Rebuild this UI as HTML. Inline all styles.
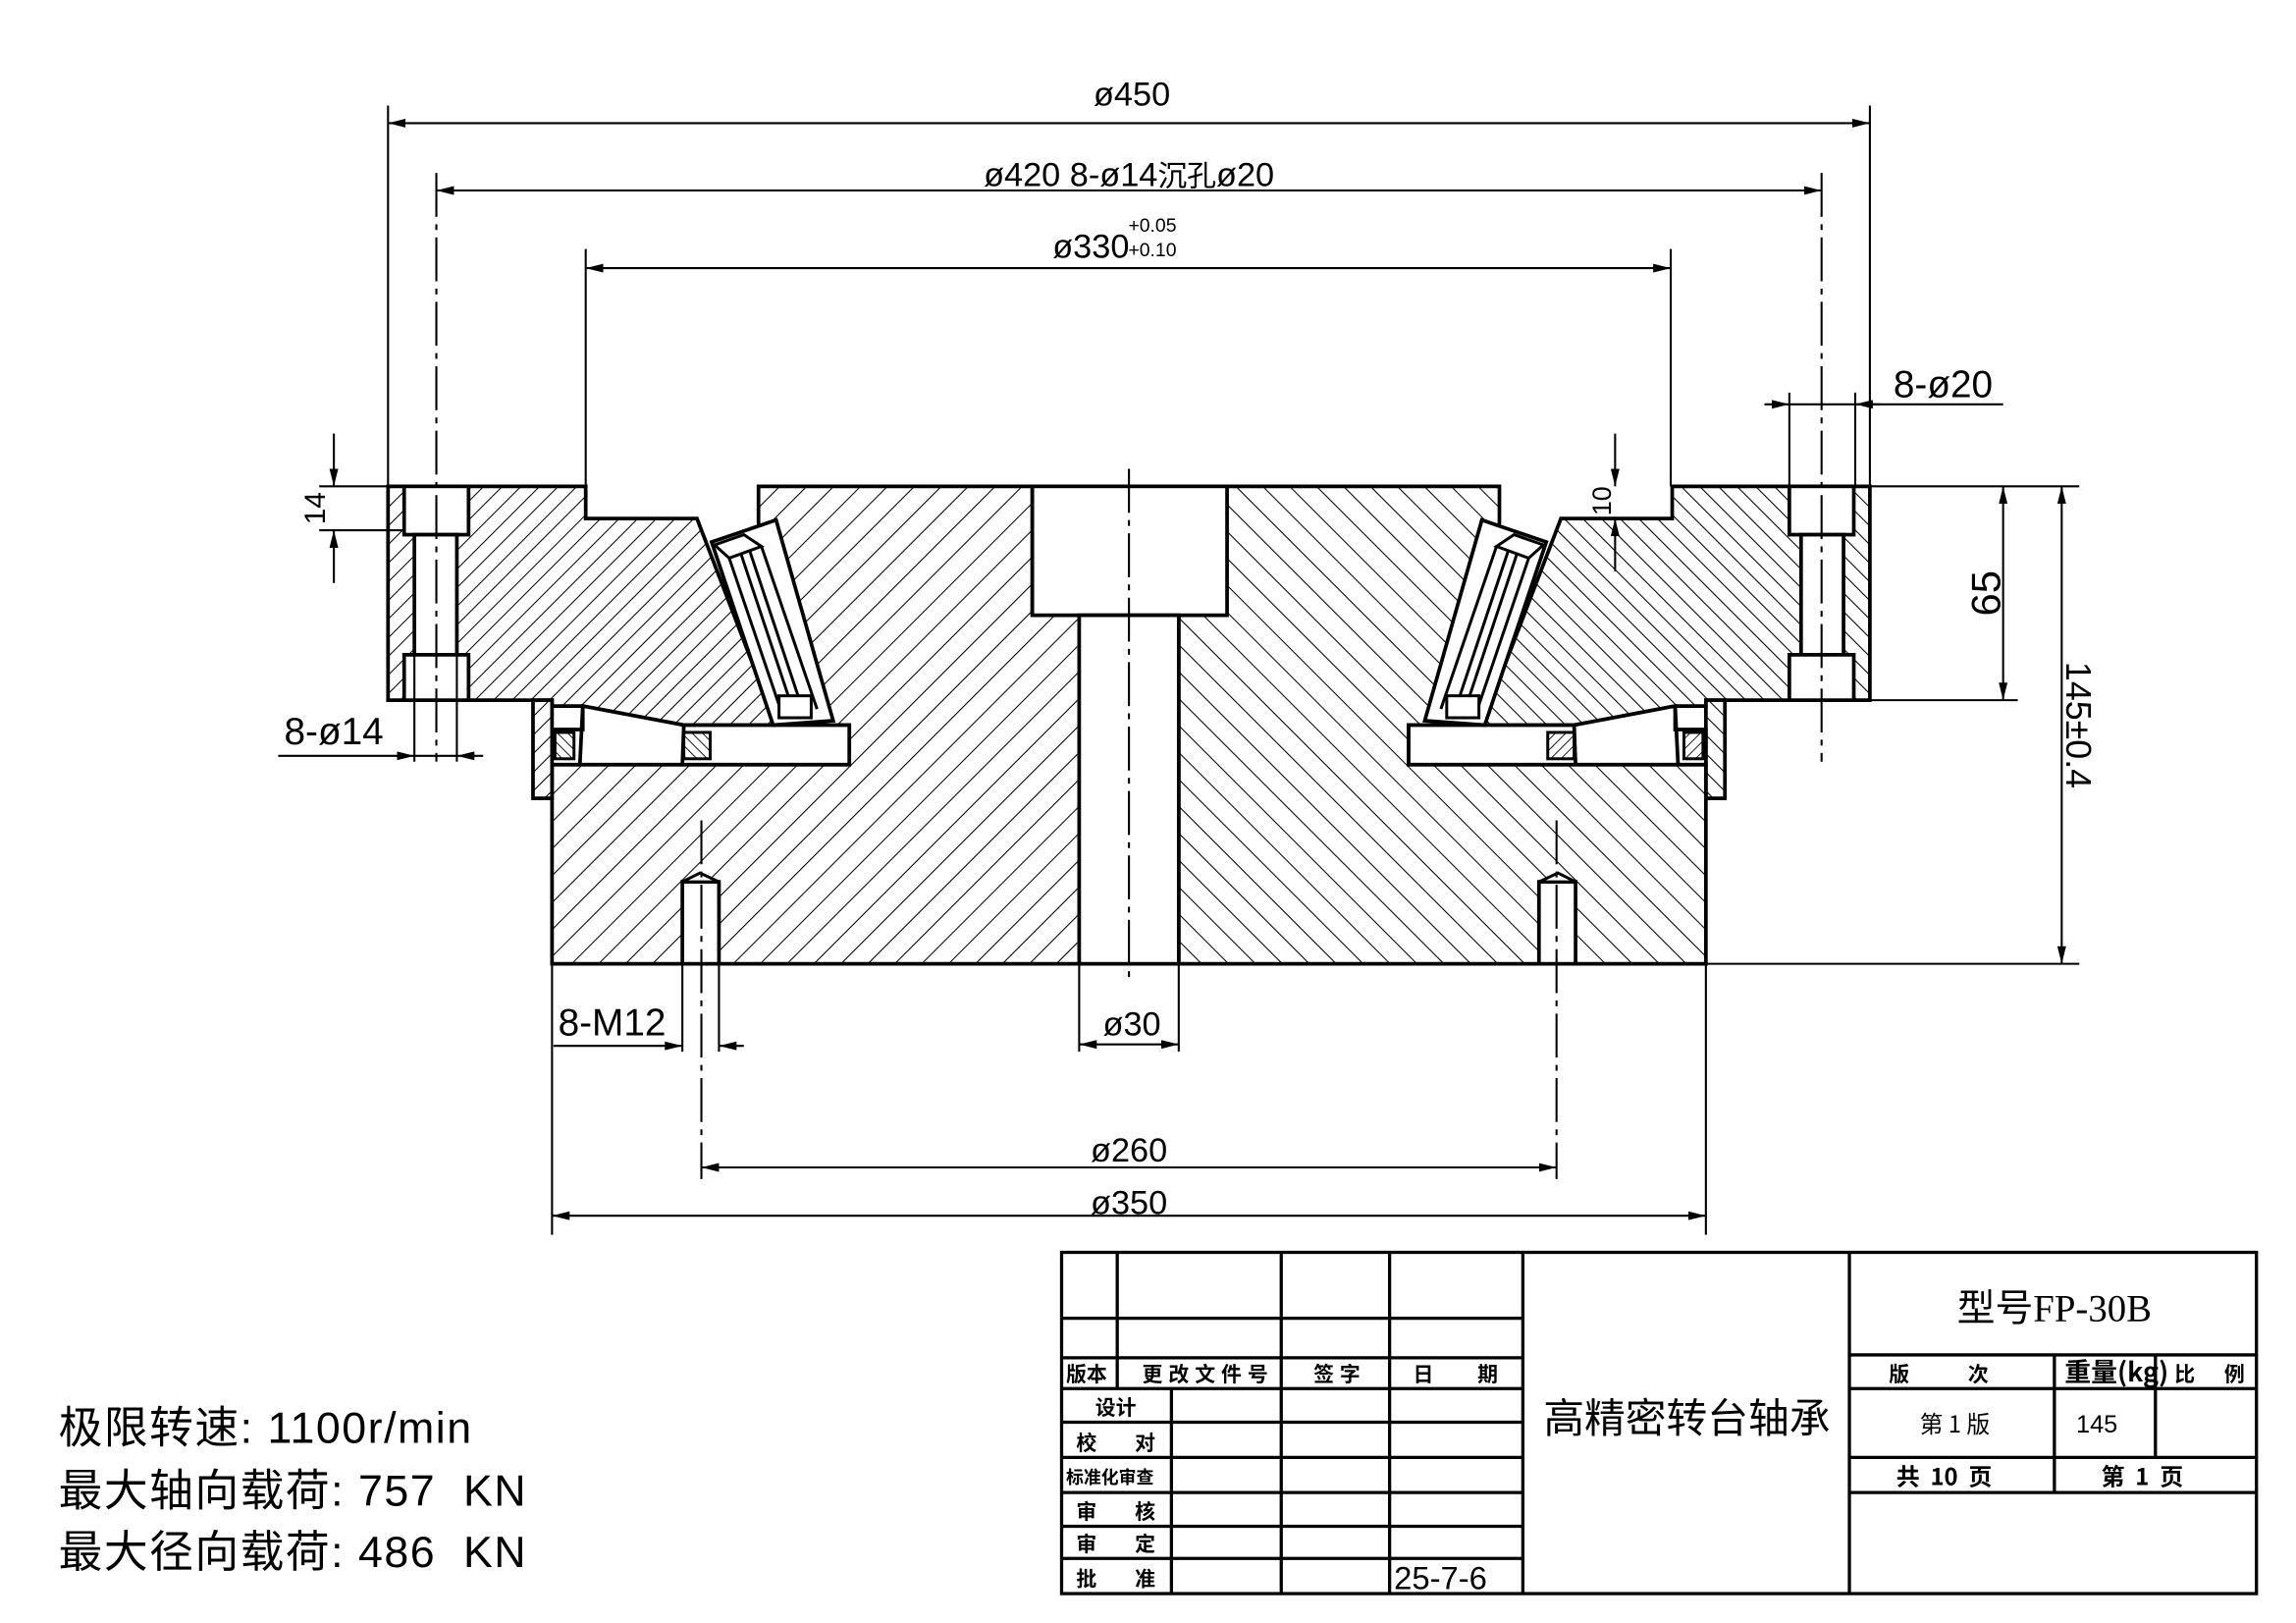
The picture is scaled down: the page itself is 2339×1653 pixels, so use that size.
<!DOCTYPE html>
<html><head><meta charset="utf-8"><style>
html,body{margin:0;padding:0;background:#fff;}
svg{display:block}
text{font-family:"Liberation Sans Narrow","Liberation Sans","Noto Sans CJK SC",sans-serif;fill:#000}
</style></head><body>
<svg width="2339" height="1653" viewBox="0 0 1568 1108" xmlns="http://www.w3.org/2000/svg">
<defs>
<pattern id="h1" patternUnits="userSpaceOnUse" width="9" height="9" patternTransform="rotate(45)"><line x1="0" y1="0" x2="0" y2="9" stroke="#000" stroke-width="1.4"/></pattern>
<pattern id="h2" patternUnits="userSpaceOnUse" width="13" height="13" patternTransform="rotate(45)"><line x1="0" y1="0" x2="0" y2="13" stroke="#000" stroke-width="1.4"/></pattern>
<pattern id="h3" patternUnits="userSpaceOnUse" width="5" height="5" patternTransform="rotate(-45)"><line x1="0" y1="0" x2="0" y2="5" stroke="#000" stroke-width="1.2"/></pattern>
<marker id="a" viewBox="0 0 12 6" refX="12" refY="3" markerWidth="12" markerHeight="6" orient="auto-start-reverse" markerUnits="userSpaceOnUse"><path d="M0,0 L12,3 L0,6 z" fill="#000"/></marker>
</defs>
<rect width="1568" height="1108" fill="#fff"/>

<g id="half" stroke="#000" stroke-width="2.5" stroke-linejoin="miter">
 <polygon points="518,332 705,332 705,420 737,420 737,658 377,658 377,522 580,522 580,495 560,495 518,357" fill="url(#h2)"/>
 <polygon points="265,332 400,332 400,354 476,354 530,495 467,495 398,482 377,482 377,478 265,478" fill="url(#h1)"/>
 <rect x="364" y="478" width="13" height="67" fill="url(#h1)"/>
 <rect x="276" y="332" width="44" height="33" fill="#fff"/>
 <rect x="283" y="365" width="29" height="82" fill="#fff"/>
 <rect x="276" y="447" width="44" height="31" fill="#fff"/>
 <polygon points="398,482 467,495 580,495 580,522 377,522 377,498 398,498" fill="#fff"/>
 <rect x="379" y="500" width="13" height="18" fill="url(#h3)" stroke-width="2"/>
 <rect x="467" y="500" width="18" height="18" fill="url(#h3)" stroke-width="2"/>
 <line x1="398" y1="482" x2="396" y2="522"/>
 <line x1="467" y1="495" x2="466" y2="522"/>
 <polygon points="486,370 530,355 569,492 528,495" fill="#fff"/>
 <polygon points="488,372 508,365 520,373 498,381" fill="#fff" stroke-width="2"/>
 <line x1="498" y1="381" x2="535" y2="490" stroke-width="2"/>
 <line x1="506" y1="378" x2="542" y2="486" stroke-width="2"/>
 <line x1="512" y1="376" x2="548" y2="484" stroke-width="2"/>
 <line x1="520" y1="373" x2="558" y2="484" stroke-width="2"/>
 <rect x="532" y="475" width="22" height="15" fill="#fff" stroke-width="2"/>
 <rect x="466" y="602" width="25" height="56" fill="#fff"/>
 <polygon points="466,602 478,596 491,602" fill="#fff" stroke-width="2"/>
</g>
<use href="#half" transform="translate(1542,0) scale(-1,1)"/>
<rect x="705" y="332" width="133" height="88" fill="#fff" stroke="#000" stroke-width="2.5"/>
<rect x="737" y="420" width="68" height="238" fill="#fff" stroke="#000" stroke-width="2.5"/>

<g stroke="#000" stroke-width="1.4" fill="none">
 <line x1="771" y1="320" x2="771" y2="672" stroke-dasharray="30,5,4,5"/>
 <line x1="298" y1="118" x2="298" y2="520" stroke-dasharray="30,5,4,5"/>
 <line x1="1244" y1="118" x2="1244" y2="520" stroke-dasharray="30,5,4,5"/>
 <line x1="479" y1="560" x2="479" y2="805" stroke-dasharray="30,5,4,5"/>
 <line x1="1063" y1="560" x2="1063" y2="805" stroke-dasharray="30,5,4,5"/>
 <line x1="265" y1="72" x2="265" y2="332"/><line x1="1277" y1="72" x2="1277" y2="332"/>
 <line x1="265" y1="84" x2="1277" y2="84" marker-start="url(#a)" marker-end="url(#a)"/>
 <line x1="298" y1="130" x2="1244" y2="130" marker-start="url(#a)" marker-end="url(#a)"/>
 <line x1="400" y1="170" x2="400" y2="332"/><line x1="1141" y1="170" x2="1141" y2="332"/>
 <line x1="400" y1="183" x2="1141" y2="183" marker-start="url(#a)" marker-end="url(#a)"/>
 <line x1="1222" y1="268" x2="1222" y2="332"/><line x1="1267" y1="268" x2="1267" y2="332"/>
 <line x1="1222" y1="276" x2="1368" y2="276"/>
 <line x1="1205" y1="276" x2="1222" y2="276" marker-end="url(#a)"/>
 <line x1="1284" y1="276" x2="1267" y2="276" marker-end="url(#a)"/>
 <line x1="218" y1="332" x2="265" y2="332"/><line x1="218" y1="362" x2="276" y2="362"/>
 <line x1="228" y1="296" x2="228" y2="332" marker-end="url(#a)"/>
 <line x1="228" y1="398" x2="228" y2="362" marker-end="url(#a)"/>
 <line x1="1103" y1="296" x2="1103" y2="332" marker-end="url(#a)"/>
 <line x1="1103" y1="390" x2="1103" y2="354" marker-end="url(#a)"/>
 <line x1="1277" y1="332" x2="1420" y2="332"/><line x1="1277" y1="478" x2="1378" y2="478"/>
 <line x1="1165" y1="658" x2="1420" y2="658"/>
 <line x1="1368" y1="332" x2="1368" y2="478" marker-start="url(#a)" marker-end="url(#a)"/>
 <line x1="1408" y1="332" x2="1408" y2="658" marker-start="url(#a)" marker-end="url(#a)"/>
 <line x1="283" y1="447" x2="283" y2="520"/><line x1="312" y1="447" x2="312" y2="520"/>
 <line x1="190" y1="516" x2="283" y2="516" marker-end="url(#a)"/>
 <line x1="312" y1="516" x2="283" y2="516"/>
 <line x1="330" y1="516" x2="312" y2="516" marker-end="url(#a)"/>
 <line x1="466" y1="658" x2="466" y2="718"/><line x1="491" y1="658" x2="491" y2="718"/>
 <line x1="378" y1="714" x2="466" y2="714" marker-end="url(#a)"/>
 <line x1="508" y1="714" x2="491" y2="714" marker-end="url(#a)"/>
 <line x1="737" y1="658" x2="737" y2="718"/><line x1="805" y1="658" x2="805" y2="718"/>
 <line x1="737" y1="713" x2="805" y2="713" marker-start="url(#a)" marker-end="url(#a)"/>
 <line x1="479" y1="797" x2="1063" y2="797" marker-start="url(#a)" marker-end="url(#a)"/>
 <line x1="377" y1="658" x2="377" y2="843"/><line x1="1165" y1="658" x2="1165" y2="843"/>
 <line x1="377" y1="830" x2="1165" y2="830" marker-start="url(#a)" marker-end="url(#a)"/>
</g>

<g font-size="23" text-anchor="middle">
 <text x="773" y="72">ø450</text>
 <text x="771" y="127">ø420  8-ø14<tspan font-size="20" font-family="Noto Sans CJK SC">沉孔</tspan>ø20</text>
 <text x="745" y="176">ø330</text>
 <text x="787" y="158" font-size="13">+0.05</text>
 <text x="787" y="175" font-size="13">+0.10</text>
 <text x="1327" y="271" font-size="26">8-ø20</text>
 <text x="228" y="508" font-size="26">8-ø14</text>
 <text x="418" y="707" font-size="26">8-M12</text>
 <text x="773" y="707">ø30</text>
 <text x="771" y="793">ø260</text>
 <text x="771" y="829">ø350</text>
 <text transform="translate(222,347) rotate(-90)" font-size="20">14</text>
 <text transform="translate(1100,342) rotate(-90)" font-size="18">10</text>
 <text transform="translate(1366,405) rotate(-90)" font-size="28">65</text>
 <text transform="translate(1411,495) rotate(90)" font-size="24">145±0.4</text>
</g>

<g font-size="30">
 <text x="40" y="985" letter-spacing="1" style="font-family:'Liberation Sans','Noto Sans CJK SC',sans-serif">极限转速:&#160;1100r/min</text>
 <text x="40" y="1028" letter-spacing="1" style="font-family:'Liberation Sans','Noto Sans CJK SC',sans-serif">最大轴向载荷:&#160;757&#160;&#160;KN</text>
 <text x="40" y="1070" letter-spacing="1" style="font-family:'Liberation Sans','Noto Sans CJK SC',sans-serif">最大径向载荷:&#160;486&#160;&#160;KN</text>
</g>

<g stroke="#000" stroke-width="2.2" fill="none">
 <rect x="725" y="855" width="816" height="233"/>
 <line x1="1040" y1="855" x2="1040" y2="1088"/>
 <line x1="1263" y1="855" x2="1263" y2="1088"/>
 <line x1="725" y1="900" x2="1040" y2="900"/>
 <line x1="725" y1="927" x2="1040" y2="927"/>
 <line x1="725" y1="948" x2="1040" y2="948"/>
 <line x1="725" y1="971" x2="1040" y2="971"/>
 <line x1="725" y1="995" x2="1040" y2="995"/>
 <line x1="725" y1="1019" x2="1040" y2="1019"/>
 <line x1="725" y1="1042" x2="1040" y2="1042"/>
 <line x1="725" y1="1064" x2="1040" y2="1064"/>
 <line x1="763" y1="855" x2="763" y2="948"/>
 <line x1="875" y1="855" x2="875" y2="1088"/>
 <line x1="949" y1="855" x2="949" y2="1088"/>
 <line x1="800" y1="948" x2="800" y2="1088"/>
 <line x1="1263" y1="925" x2="1541" y2="925"/>
 <line x1="1263" y1="948" x2="1541" y2="948"/>
 <line x1="1263" y1="995" x2="1541" y2="995"/>
 <line x1="1263" y1="1019" x2="1541" y2="1019"/>
 <line x1="1403" y1="925" x2="1403" y2="1019"/>
 <line x1="1472" y1="925" x2="1472" y2="995"/>
</g>
<g font-size="14" font-weight="bold">
 <text x="728" y="943" style="font-family:'Noto Sans CJK SC',sans-serif">版本</text>
 <text x="780" y="943" letter-spacing="4" style="font-family:'Noto Sans CJK SC',sans-serif">更改文件号</text>
 <text x="897" y="943" letter-spacing="4" style="font-family:'Noto Sans CJK SC',sans-serif">签字</text>
 <text x="965" y="943" letter-spacing="30" style="font-family:'Noto Sans CJK SC',sans-serif">日期</text>
 <text x="748" y="966" style="font-family:'Noto Sans CJK SC',sans-serif">设计</text>
 <text x="735" y="990" letter-spacing="26" style="font-family:'Noto Sans CJK SC',sans-serif">校对</text>
 <text x="728" y="1013" font-size="12" style="font-family:'Noto Sans CJK SC',sans-serif">标准化审查</text>
 <text x="735" y="1037" letter-spacing="26" style="font-family:'Noto Sans CJK SC',sans-serif">审核</text>
 <text x="735" y="1059" letter-spacing="26" style="font-family:'Noto Sans CJK SC',sans-serif">审定</text>
 <text x="735" y="1083" letter-spacing="26" style="font-family:'Noto Sans CJK SC',sans-serif">批准</text>
 <text x="1290" y="943" letter-spacing="40" style="font-family:'Noto Sans CJK SC',sans-serif">版次</text>
 <text x="1410" y="943" font-size="18" style="font-family:'Noto Sans CJK SC',sans-serif">重量(kg)</text>
 <text x="1485" y="943" letter-spacing="20" style="font-family:'Noto Sans CJK SC',sans-serif">比例</text>
 <text x="1295" y="1014" font-size="16" style="font-family:'Noto Sans CJK SC',sans-serif">共&#160;&#160;10&#160;&#160;页</text>
 <text x="1435" y="1014" font-size="16" style="font-family:'Noto Sans CJK SC',sans-serif">第&#160;&#160;1&#160;&#160;页</text>
</g>
<text x="952" y="1085" font-size="22" style="font-family:'Liberation Sans Narrow','Liberation Sans',sans-serif">25-7-6</text>
<text x="1403" y="902" font-size="26" text-anchor="middle" style="font-family:'Liberation Serif','Noto Sans CJK SC',serif">型号FP-30B</text>
<text x="1152" y="978" font-size="28" text-anchor="middle" style="font-family:'Noto Sans CJK SC',sans-serif">高精密转台轴承</text>
<text x="1335" y="978" font-size="16" text-anchor="middle" style="font-family:'Noto Sans CJK SC',sans-serif">第 1 版</text>
<text x="1432" y="978" font-size="17" text-anchor="middle" style="font-family:'Liberation Sans',sans-serif">145</text>
</svg>
</body></html>
